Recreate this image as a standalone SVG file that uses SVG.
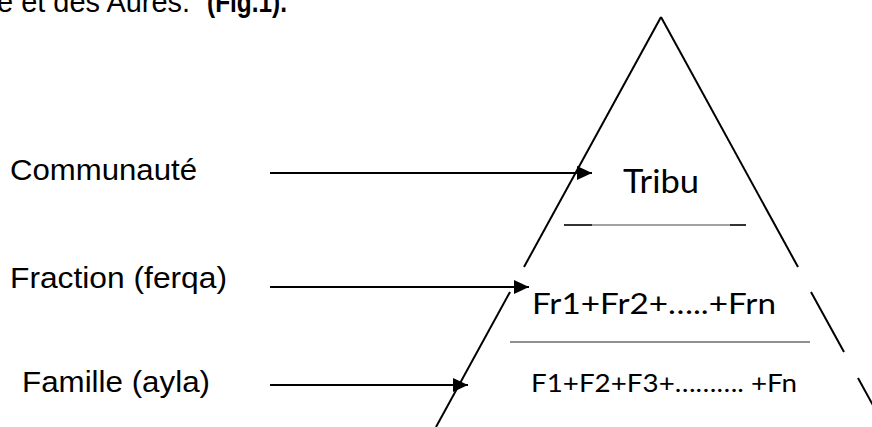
<svg xmlns="http://www.w3.org/2000/svg" width="872" height="427" viewBox="0 0 872 427">
  <style>
    .edge { stroke: #000; stroke-width: 2; fill: none; }
    .conn { stroke: #000; stroke-width: 2; fill: none; }
    .lbl { font-family: "Liberation Sans", Arial, sans-serif; font-size: 29px; fill: #000; }
    .lvl { font-family: Lato, "Open Sans", sans-serif; fill: #000; }
    .sep { stroke: #222; stroke-width: 1; }
    .sept { stroke: #444; stroke-width: 1; }
    .sepk { stroke: #000; stroke-width: 1.6; }
  </style>
  <defs>
    <marker id="arrow" markerUnits="userSpaceOnUse" markerWidth="16" markerHeight="14" refX="15" refY="7" orient="auto">
      <path d="M0,0 L15,7 L0,14 z" fill="#000"/>
    </marker>
  </defs>
  <rect width="872" height="427" fill="#fff"/>

  <text class="lbl" x="-3" y="12" font-size="28" textLength="193" lengthAdjust="spacingAndGlyphs">e et des Aurès.</text>
  <text class="lbl" x="207" y="12" font-size="22" font-weight="bold" textLength="80" lengthAdjust="spacingAndGlyphs">(Fig.1).</text>

  <g id="pyramid">
    <line class="edge" x1="661" y1="17" x2="524" y2="267"/>
    <line class="edge" x1="510" y1="292" x2="436" y2="427"/>
    <line class="edge" x1="661" y1="17" x2="798" y2="267"/>
    <line class="edge" x1="811" y1="292" x2="844" y2="352"/>
    <line class="edge" x1="858" y1="378" x2="880" y2="418"/>
  </g>

  <g id="level-tribu">
    <text class="lvl" x="623" y="193" font-size="33" textLength="76" lengthAdjust="spacingAndGlyphs">Tribu</text>
    <line class="sepk" x1="564" y1="225" x2="592" y2="225"/>
    <line class="sept" x1="592" y1="225" x2="730" y2="225"/>
    <line class="sepk" x1="730" y1="225" x2="746" y2="225"/>
  </g>

  <g id="level-fraction">
    <text class="lvl" x="532" y="314" font-size="29" textLength="244" lengthAdjust="spacingAndGlyphs">Fr1+Fr2+…..+Frn</text>
    <line class="sep" x1="510" y1="342" x2="810" y2="342"/>
  </g>

  <g id="level-famille">
    <text class="lvl" x="531" y="392" font-size="25" textLength="266" lengthAdjust="spacingAndGlyphs">F1+F2+F3+………. +Fn</text>
  </g>

  <g id="label-communaute">
    <text class="lbl" x="10" y="180" textLength="187" lengthAdjust="spacingAndGlyphs">Communauté</text>
  </g>
  <g id="label-fraction">
    <text class="lbl" x="10" y="288" textLength="217" lengthAdjust="spacingAndGlyphs">Fraction (ferqa)</text>
  </g>
  <g id="label-famille">
    <text class="lbl" x="22" y="392" textLength="188" lengthAdjust="spacingAndGlyphs">Famille (ayla)</text>
  </g>

  <g id="connectors">
    <line class="conn" x1="270" y1="173" x2="592" y2="173" marker-end="url(#arrow)"/>
    <line class="conn" x1="270" y1="287" x2="529" y2="287" marker-end="url(#arrow)"/>
    <line class="conn" x1="270" y1="385" x2="468" y2="385" marker-end="url(#arrow)"/>
  </g>
</svg>
